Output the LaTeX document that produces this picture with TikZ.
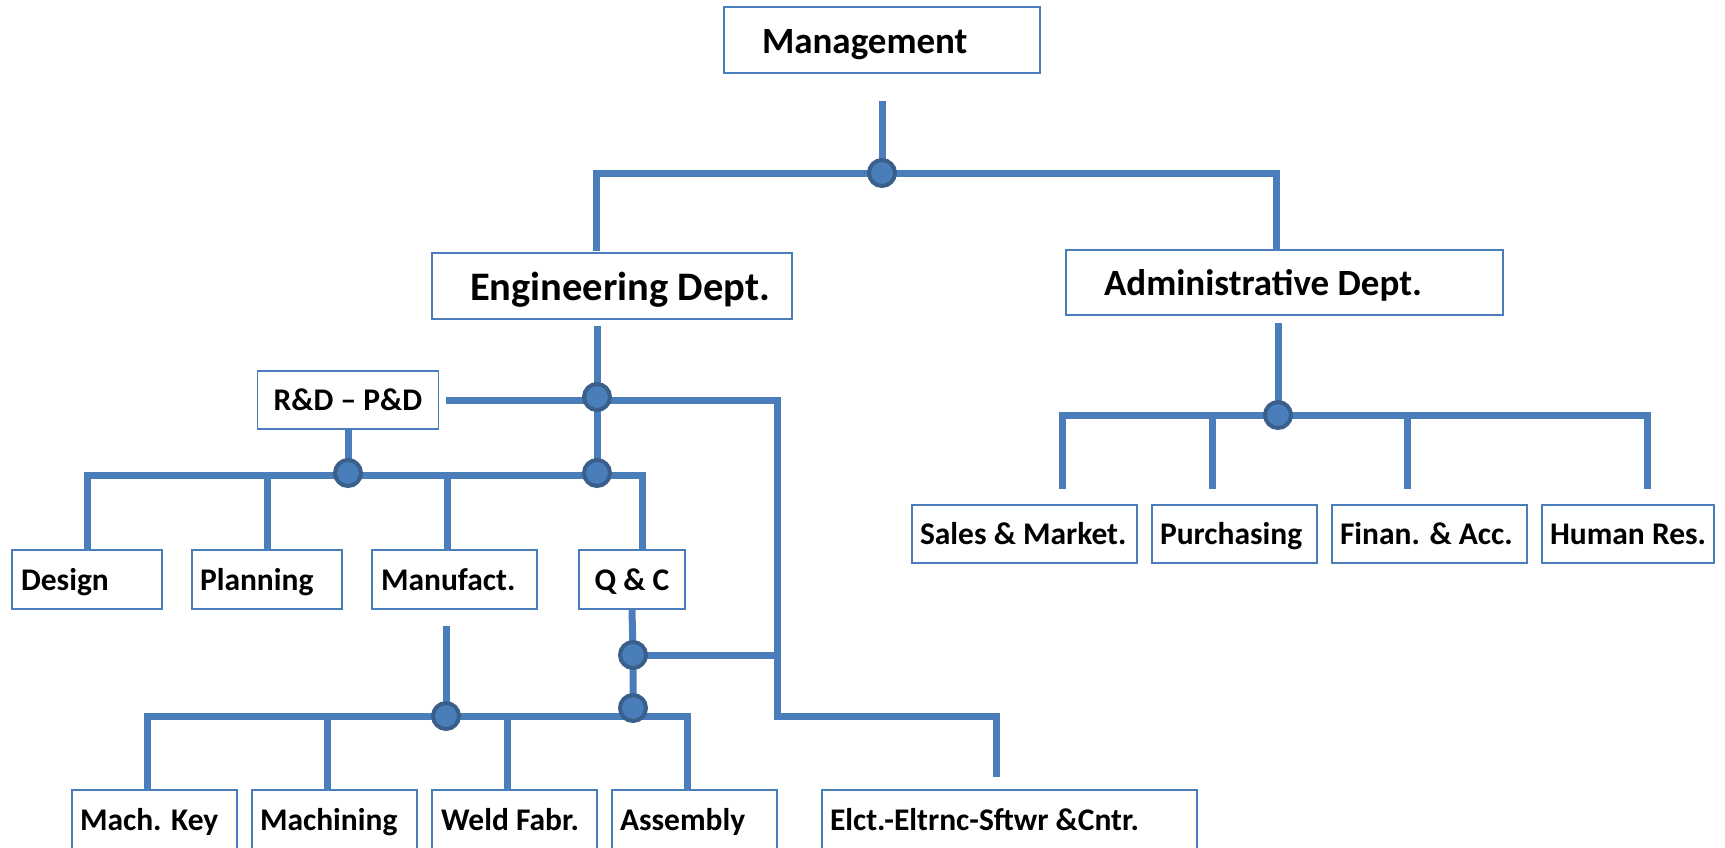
\documentclass[tikz,border=0pt]{standalone}
\usepackage{fontspec}
\setmainfont{Carlito}

\definecolor{linkblue}{HTML}{4A7EBB}
\definecolor{dotrim}{HTML}{3A5F8B}

\tikzset{
  unit/.style={draw=linkblue, line width=1.5pt, fill=white, inner ysep=0pt,
    text height=21pt, text depth=0pt, minimum height=59pt,
    font=\bfseries\fontsize{31.5}{36}\selectfont},
  head/.style={unit, minimum height=66pt, text height=26pt,
    font=\bfseries\fontsize{37}{44}\selectfont},
  cell/.style 2 args={text width=#1, inner xsep=#2, align=flush left},
  link/.style={draw=linkblue, line width=7pt},
  junction/.style={circle, fill=linkblue, draw=dotrim, line width=4pt,
    minimum size=26pt, inner sep=0pt},
}

\begin{document}
\begin{tikzpicture}[x=1pt, y=-1pt]
    \clip (0,0) rectangle (1725,847);

    \node [head, cell={240pt}{38pt}] (mgmt) at (882,40) {Management};
    \node [head, cell={284pt}{38pt}, text height=28pt, font=\bfseries\fontsize{40.5}{46}\selectfont] (eng) at (612,286) {\mbox{Engineering Dept.}};
    \node [head, cell={361pt}{38pt}, minimum height=65pt] (admin) at (1284.5,282.5) {\mbox{Administrative Dept.}};

    \node [unit, minimum width=181pt, minimum height=58pt] (rnd) at (348,400) {R\&D -- P\&D};
    \node [unit, cell={132pt}{9pt}] (design) at (87,579.5) {Design};
    \node [unit, cell={134pt}{8pt}] (plan) at (267,579.5) {Planning};
    \node [unit, cell={147pt}{9pt}] (manuf) at (454.5,579.5) {Manufact.};
    \node [unit, minimum width=106pt] (qc) at (632,579.5) {Q~\&~C};

    \node [unit, cell={149pt}{8pt}, minimum height=60pt] (mkey) at (154.5,820) {\mbox{Mach. Key}};
    \node [unit, cell={149pt}{8pt}, minimum height=60pt] (mach) at (334.5,820) {Machining};
    \node [unit, cell={147pt}{9pt}, minimum height=60pt] (weld) at (514.5,820) {\mbox{Weld Fabr.}};
    \node [unit, cell={149pt}{8pt}, minimum height=60pt] (assy) at (694.5,820) {Assembly};
    \node [unit, cell={359pt}{8pt}, minimum height=60pt] (elct) at (1009.5,820) {\mbox{Elct.-Eltrnc-Sftwr \&Cntr.}};

    \node [unit, cell={209pt}{8pt}, minimum height=58pt] (sales) at (1024.5,534) {\mbox{Sales \& Market.}};
    \node [unit, cell={149pt}{8pt}, minimum height=58pt] (purch) at (1234.5,534) {Purchasing};
    \node [unit, cell={179pt}{8pt}, minimum height=58pt] (finan) at (1429.5,534) {\mbox{Finan. \& Acc.}};
    \node [unit, cell={156pt}{8pt}, minimum height=58pt] (human) at (1628,534) {\mbox{Human Res.}};

    \coordinate (topj) at (882,173);
    \coordinate (engj) at (597,397);
    \coordinate (techj) at (597,473);
    \coordinate (rndj) at (348,473);
    \coordinate (qcj) at (633,655);
    \coordinate (asmj) at (633,708);
    \coordinate (manj) at (446,716);
    \coordinate (admj) at (1278,415);

    \coordinate (engtop) at (596,251);
    \coordinate (admtop) at (1276,250);
    \coordinate (rndturn) at (777,400);
    \coordinate (elcturn) at (777,716);
    \coordinate (elcdrop) at (996,777);
    \coordinate (busL) at (87,475);
    \coordinate (busR) at (642,475);
    \coordinate (busLL) at (147,716);
    \coordinate (busRR) at (687,716);
    \coordinate (busAL) at (1062,415);
    \coordinate (busAR) at (1647,415);

    \draw [link, shorten <=27pt] (mgmt.south) -- (topj);
    \draw [link] (engtop) |- (topj) -| (admtop);

    \draw [link, shorten <=6pt] (eng.south -| engj) -- (engj) -- (techj);
    \draw [link, shorten <=7pt] (rnd.east) -- (rndturn) -- (elcturn) -| (elcdrop);
    \draw [link] (rnd.south) -- (rndj);

    \draw [link] (busL |- design.north) |- (busR) -- (busR |- qc.north);
    \foreach \x/\n in {267/plan, 447/manuf} {
        \coordinate (d) at (\x,475);
        \draw [link] (d) -- (d |- \n.north);
    }

    \draw [link] (qc.south) -- (qcj) -- (asmj);
    \draw [link] (qcj) -- (qcj -| elcturn);
    \draw [link, shorten <=16pt] (manuf.south -| manj) -- (manj);
    \draw [link] (busLL |- mkey.north) |- (busRR) -- (busRR |- assy.north);
    \foreach \x/\n in {327/mach, 507/weld} {
        \coordinate (d) at (\x,716);
        \draw [link] (d) -- (d |- \n.north);
    }

    \draw [link, shorten <=7pt] (admin.south -| admj) -- (admj);
    \draw [link, shorten <=15pt, shorten >=15pt] (busAL |- sales.north) |- (busAR) -- (busAR |- human.north);
    \foreach \x/\n in {1212/purch, 1407/finan} {
        \coordinate (d) at (\x,415);
        \draw [link, shorten >=15pt] (d) -- (d |- \n.north);
    }

    \foreach \j in {topj, engj, techj, rndj, qcj, asmj, manj, admj}
        \node [junction] at (\j) {};
\end{tikzpicture}
\end{document}
